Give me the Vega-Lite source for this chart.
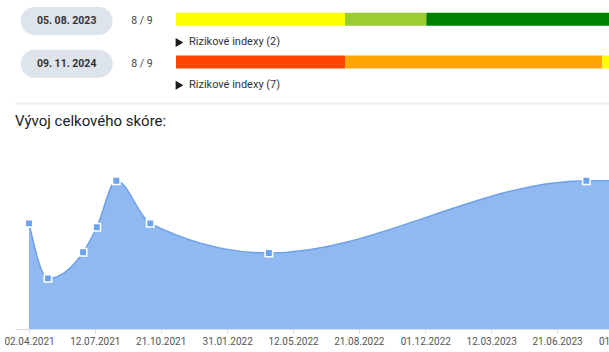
{
  "$schema": "https://vega.github.io/schema/vega-lite/v6.json",
  "autosize": {"type": "none"},
  "padding": {"left": 15, "top": 0, "right": 0, "bottom": 23},
  "width": 680,
  "height": 329,
  "background": "white",
  "config": {"view": {"stroke": null}, "axis": {"grid": false}, "font": "Roboto"},
  "datasets": {
    "tests": [
      {"row": 1, "test": "05. 08. 2023", "result": "8 / 9", "risks": "Rizikové indexy (2)"},
      {"row": 2, "test": "09. 11. 2024", "result": "8 / 9", "risks": "Rizikové indexy (7)"}
    ],
    "segments": [
      {"row": 1, "level": 3, "share": 39.03},
      {"row": 1, "level": 2, "share": 18.78},
      {"row": 1, "level": 1, "share": 42.19},
      {"row": 2, "level": 5, "share": 39.10},
      {"row": 2, "level": 4, "share": 59.35},
      {"row": 2, "level": 3, "share": 1.55}
    ],
    "scores": [
      {"date": "2021-04-02", "score": 5.7},
      {"date": "2021-05-01", "score": 2.73},
      {"date": "2021-06-24", "score": 4.14},
      {"date": "2021-07-15", "score": 5.49},
      {"date": "2021-08-14", "score": 8.0},
      {"date": "2021-10-05", "score": 5.7},
      {"date": "2022-04-05", "score": 4.1},
      {"date": "2023-08-05", "score": 8.0},
      {"date": "2024-11-09", "score": 8.0}
    ]
  },
  "layer": [
    {
      "layer": [
        {
          "data": {"name": "tests"},
          "mark": {"type": "bar", "orient": "horizontal", "height": 28, "cornerRadius": 14, "color": "#dee4ec"},
          "encoding": {
            "x": {"datum": -35.87, "type": "quantitative", "scale": {"domain": [-37.182, 119.862], "nice": false, "zero": false}, "axis": null},
            "x2": {"datum": -14.62},
            "y": {"field": "row", "type": "quantitative", "scale": {"domain": [0.628, 8.088], "reverse": true, "nice": false, "zero": false}, "axis": null}
          }
        },
        {
          "data": {"name": "segments"},
          "mark": {"type": "bar", "orient": "horizontal", "height": 13, "yOffset": -1.7},
          "encoding": {
            "x": {"field": "share", "type": "quantitative", "stack": "zero", "scale": {"domain": [-37.182, 119.862], "nice": false, "zero": false}, "axis": null},
            "y": {"field": "row", "type": "quantitative", "scale": {"domain": [0.628, 8.088], "reverse": true, "nice": false, "zero": false}, "axis": null},
            "color": {"field": "level", "type": "ordinal", "scale": {"domain": [1, 2, 3, 4, 5], "range": ["#008000", "#9acd32", "#ffff00", "#ffa500", "#ff4500"]}, "legend": null},
            "order": {"field": "level", "sort": "descending"}
          }
        },
        {
          "data": {"name": "tests"},
          "mark": {"type": "text", "font": "Roboto", "fontSize": 10.5, "fontWeight": "bold", "color": "#333333", "align": "center", "baseline": "middle"},
          "encoding": {
            "x": {"datum": -25.25, "type": "quantitative"},
            "y": {"field": "row", "type": "quantitative"},
            "text": {"field": "test"}
          }
        },
        {
          "data": {"name": "tests"},
          "mark": {"type": "text", "font": "Roboto", "fontSize": 10.5, "color": "#444444", "align": "center", "baseline": "middle"},
          "encoding": {
            "x": {"datum": -7.85, "type": "quantitative"},
            "y": {"field": "row", "type": "quantitative"},
            "text": {"field": "result"}
          }
        },
        {
          "data": {"name": "tests"},
          "mark": {"type": "point", "shape": "triangle-right", "filled": true, "size": 80, "color": "#1a1a1a", "opacity": 1, "yOffset": 21.5},
          "encoding": {
            "x": {"datum": 0.81, "type": "quantitative"},
            "y": {"field": "row", "type": "quantitative"}
          }
        },
        {
          "data": {"name": "tests"},
          "mark": {"type": "text", "font": "Roboto", "fontSize": 11, "color": "#333333", "align": "left", "baseline": "middle", "dy": 21.5},
          "encoding": {
            "x": {"datum": 3.0, "type": "quantitative"},
            "y": {"field": "row", "type": "quantitative"},
            "text": {"field": "risks"}
          }
        },
        {
          "data": {"values": [{"part": "separator"}]},
          "mark": {"type": "rule", "color": "#eeeeee", "strokeWidth": 2},
          "encoding": {
            "y": {"datum": 2.93, "type": "quantitative"}
          }
        },
        {
          "data": {"values": [{"label": "Vývoj celkového skóre:"}]},
          "mark": {"type": "text", "font": "Roboto", "fontSize": 15, "color": "#202124", "align": "left", "baseline": "alphabetic"},
          "encoding": {
            "x": {"datum": -37.182, "type": "quantitative"},
            "y": {"datum": 3.4465, "type": "quantitative"},
            "text": {"field": "label"}
          }
        }
      ]
    },
    {
      "data": {"name": "scores"},
      "layer": [
        {
          "mark": {"type": "area", "interpolate": "monotone", "color": "#8fb9f0", "opacity": 1, "clip": true, "line": {"color": "#6fa1ea", "strokeWidth": 1.5}},
          "encoding": {
            "x": {
              "field": "date", "type": "temporal",
              "scale": {"type": "utc", "domain": [
                {"year": 2021, "month": 3, "date": 11, "hours": 12, "minutes": 33, "utc": true},
                {"year": 2024, "month": 1, "date": 18, "hours": 16, "minutes": 38, "utc": true}
              ]},
              "axis": {
                "orient": "bottom",
                "title": null,
                "values": [
                  {"year": 2021, "month": 4, "date": 2, "utc": true},
                  {"year": 2021, "month": 7, "date": 12, "utc": true},
                  {"year": 2021, "month": 10, "date": 21, "utc": true},
                  {"year": 2022, "month": 1, "date": 31, "utc": true},
                  {"year": 2022, "month": 5, "date": 12, "utc": true},
                  {"year": 2022, "month": 8, "date": 21, "utc": true},
                  {"year": 2022, "month": 12, "date": 1, "utc": true},
                  {"year": 2023, "month": 3, "date": 12, "utc": true},
                  {"year": 2023, "month": 6, "date": 21, "utc": true},
                  {"year": 2023, "month": 10, "date": 1, "utc": true}
                ],
                "labelExpr": "utcFormat(datum.value, '%d.%m.%Y')",
                "domainColor": "#dddddd",
                "tickColor": "#dddddd",
                "tickSize": 4,
                "labelColor": "#555555",
                "labelFont": "Roboto",
                "labelFontSize": 10,
                "labelPadding": 3,
                "labelFlush": false,
                "labelOverlap": false,
                "grid": false
              }
            },
            "y": {"field": "score", "type": "quantitative", "scale": {"domain": [0, 17.75], "nice": false, "zero": true}, "axis": null}
          }
        },
        {
          "mark": {"type": "point", "shape": "square", "filled": true, "size": 55, "color": "#6da3ee", "stroke": "white", "strokeWidth": 1.5, "opacity": 1, "clip": true},
          "encoding": {
            "x": {"field": "date", "type": "temporal"},
            "y": {"field": "score", "type": "quantitative"}
          }
        }
      ]
    }
  ],
  "resolve": {
    "scale": {"x": "independent", "y": "independent", "color": "independent"},
    "axis": {"x": "independent", "y": "independent"}
  }
}
